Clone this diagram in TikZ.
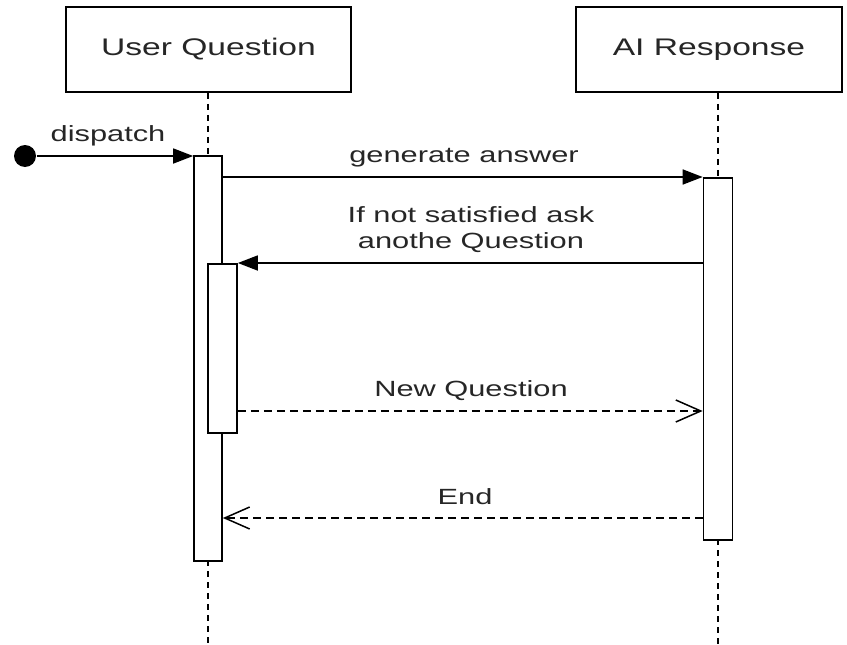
\documentclass[tikz,border=0pt]{standalone}
\usepackage{fontspec}
\setmainfont{Liberation Sans}[FakeStretch=1.4]
\usetikzlibrary{arrows.meta,calc}
\definecolor{txt}{HTML}{262626}
\begin{document}
\begin{tikzpicture}[x=1pt,y=-1pt, line width=1.7pt,
  actor/.style={draw, fill=white, minimum height=85pt, inner sep=0pt, text=txt, font=\fontsize{24}{28}\selectfont},
  bar/.style={draw, fill=white, inner sep=0pt, anchor=north},
  life/.style={dash pattern=on 6pt off 5pt, line width=1.8pt},
  msg/.style={-{Triangle[length=20pt,width=15pt]}},
  ret/.style={dash pattern=on 8pt off 5pt, -{Straight Barb[length=25pt,width=22pt,line width=1.5pt]}},
  lbl/.style={text=txt, font=\fontsize{22}{26}\selectfont, align=center, inner sep=0pt}]
\useasboundingbox (0,0) rectangle (847,645);
\coordinate (bot) at (0,645);
\coordinate (nq) at (0,411);
\coordinate (en) at (0,518);
% actors
\node[actor, minimum width=285pt] (user) at (208.5,49.5) {User Question};
\node[actor, minimum width=266pt] (ai) at (709,49.5) {AI Response};
% lifelines
\draw[life] (user.south -| 208,0) -- (208,155);
\draw[life] (ai.south -| 718,0) -- (718,177);
\draw[life] (208,560) -- (bot -| 208,0);
\draw[life] (718,539) -- (bot -| 718,0);
% activation bars
\node[bar, minimum width=28pt, minimum height=405pt] (ubar) at (208,155) {};
\node[bar, minimum width=29pt, minimum height=169pt] (nbar) at (222.5,263) {};
\node[bar, minimum width=29pt, minimum height=362pt] (abar) at (718,177) {};
% dispatch
\node[circle, fill, minimum size=22pt, inner sep=0pt] (start) at (25,156) {};
\draw[msg] (start) -- (start -| ubar.west);
\node[lbl] (ldisp) at (108,136) {dispatch};
% generate answer
\draw[msg] (ubar.east |- abar.north) -- (abar.north west);
\node[lbl] (lgen) at (464,158) {generate answer};
% ask another question
\draw[msg] (abar.west |- nbar.north) -- (nbar.north east);
\node[lbl] (lask) at (471,230) {If not satisfied ask\\ anothe Question};
% new question
\draw[ret] (nbar.east |- nq) -- (abar.west |- nq);
\node[lbl] (lnew) at (471,391) {New Question};
% end
\draw[ret] (abar.west |- en) -- (ubar.east |- en);
\node[lbl] (lend) at (465,497) {End};
\end{tikzpicture}
\end{document}
